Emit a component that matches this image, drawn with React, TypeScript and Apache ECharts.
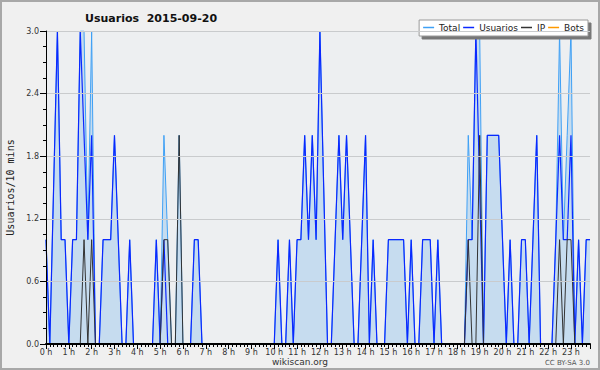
import React, { useEffect, useRef } from "react";
import * as echarts from "echarts";

const TITLE = "Usuarios  2015-09-20";
const Y_NAME = "Usuarios/10 mins";
const SERIES_NAMES = ["Total", "Usuarios", "IP", "Bots"];
const Y_TICKS = [0, 0.6, 1.2, 1.8, 2.4, 3.0];
const HOUR_LABELS = [
  "0 h", "1 h", "2 h", "3 h", "4 h", "5 h", "6 h", "7 h", "8 h", "9 h", "10 h", "11 h",
  "12 h", "13 h", "14 h", "15 h", "16 h", "17 h", "18 h", "19 h", "20 h", "21 h", "22 h", "23 h",
];

// one value per 10-minute slot (144 slots)
const usuarios = [
  1, 0, 1.5, 3, 1, 1, 0, 1, 1, 3, 2, 1,
  2, 0, 0, 1, 1, 1, 2, 1, 0, 0, 1, 0,
  0, 0, 0, 0, 0, 1, 0, 1, 0, 0, 0, 0,
  0, 0, 0, 1, 1, 0, 0, 0, 0, 0, 0, 0,
  0, 0, 0, 0, 0, 0, 0, 0, 0, 0, 0, 0,
  0, 1, 0, 0, 1, 0, 1, 1, 2, 1, 2, 1,
  3, 1.5, 0, 0, 1, 2, 1, 2, 1, 0, 0, 1,
  2, 0, 1, 0, 0, 0, 1, 1, 1, 1, 1, 0,
  1, 0, 0, 1, 1, 1, 0, 1, 0, 0, 0, 0,
  0, 0, 0, 1, 1, 3, 1.5, 0, 2, 2, 2, 2,
  1, 0, 1, 0, 0, 1, 1, 0, 1, 2, 0, 0,
  0, 0, 1, 2, 1, 1, 2, 0, 1, 0, 1, 1,
];

const ip = [
  0, 0, 0, 0, 0, 0, 0, 0, 0, 0, 1, 0,
  1, 0, 0, 0, 0, 0, 0, 0, 0, 0, 0, 0,
  0, 0, 0, 0, 0, 0, 0, 1, 1, 0, 0, 2,
  0, 0, 0, 0, 0, 0, 0, 0, 0, 0, 0, 0,
  0, 0, 0, 0, 0, 0, 0, 0, 0, 0, 0, 0,
  0, 0, 0, 0, 0, 0, 0, 0, 0, 0, 0, 0,
  0, 0, 0, 0, 0, 0, 0, 0, 0, 0, 0, 0,
  0, 0, 0, 0, 0, 0, 0, 0, 0, 0, 0, 0,
  0, 0, 0, 0, 0, 0, 0, 0, 0, 0, 0, 0,
  0, 0, 0, 1, 0, 0, 2, 0, 0, 0, 0, 0,
  0, 0, 0, 0, 0, 0, 0, 0, 0, 0, 0, 0,
  0, 0, 0, 1, 0, 1, 1, 0, 0, 0, 0, 0,
];

const total = [
  1, 0, 1.5, 3, 1, 1, 0, 1, 1, 3, 3, 1,
  3, 0, 0, 1, 1, 1, 2, 1, 0, 0, 1, 0,
  0, 0, 0, 0, 0, 1, 0, 2, 1, 0, 0, 2,
  0, 0, 0, 1, 1, 0, 0, 0, 0, 0, 0, 0,
  0, 0, 0, 0, 0, 0, 0, 0, 0, 0, 0, 0,
  0, 1, 0, 0, 1, 0, 1, 1, 2, 1, 2, 1,
  3, 1.5, 0, 0, 1, 2, 1, 2, 1, 0, 0, 1,
  2, 0, 1, 0, 0, 0, 1, 1, 1, 1, 1, 0,
  1, 0, 0, 1, 1, 1, 0, 1, 0, 0, 0, 0,
  0, 0, 0, 2, 1, 3, 3, 0, 2, 2, 2, 2,
  1, 0, 1, 0, 0, 1, 1, 0, 1, 2, 0, 0,
  0, 0, 1, 3, 1, 2, 3, 0, 1, 0, 1, 1,
];

const bots = [
  0, 0, 0, 0, 0, 0, 0, 0, 0, 0, 0, 0,
  0, 0, 0, 0, 0, 0, 0, 0, 0, 0, 0, 0,
  0, 0, 0, 0, 0, 0, 0, 0, 0, 0, 0, 0,
  0, 0, 0, 0, 0, 0, 0, 0, 0, 0, 0, 0,
  0, 0, 0, 0, 0, 0, 0, 0, 0, 0, 0, 0,
  0, 0, 0, 0, 0, 0, 0, 0, 0, 0, 0, 0,
  0, 0, 0, 0, 0, 0, 0, 0, 0, 0, 0, 0,
  0, 0, 0, 0, 0, 0, 0, 0, 0, 0, 0, 0,
  0, 0, 0, 0, 0, 0, 0, 0, 0, 0, 0, 0,
  0, 0, 0, 0, 0, 0, 0, 0, 0, 0, 0, 0,
  0, 0, 0, 0, 0, 0, 0, 0, 0, 0, 0, 0,
  0, 0, 0, 0, 0, 0, 0, 0, 0, 0, 0, 0,
];

const SLOTS_PER_HOUR = 6;
const FONT = "DejaVu Sans";

export default function App() {
  const ref = useRef<HTMLDivElement>(null);

  useEffect(() => {
    document.body.style.margin = "0";
    const chart = echarts.init(ref.current!, null, { renderer: "svg" });
    const pairs = (arr: number[]) => arr.map((v, i) => [i, v]);
    const lastSlot = usuarios.length - 1;

    chart.setOption({
      animation: false,
      backgroundColor: "#f0f0f0",
      title: {
        text: TITLE,
        left: 80,
        top: 8,
        textStyle: { fontFamily: FONT, fontSize: 11, fontWeight: "bold", color: "#111" },
      },
      legend: {
        data: SERIES_NAMES,
        right: 12,
        top: 20,
        backgroundColor: "#ffffff",
        borderColor: "#9a9a9a",
        borderWidth: 1,
        padding: [3, 4, 4, 4],
        itemGap: 3,
        itemWidth: 11,
        itemHeight: 1.5,
        icon: "rect",
        shadowColor: "#777",
        shadowOffsetX: 3,
        shadowOffsetY: 3,
        shadowBlur: 0,
        textStyle: { fontFamily: FONT, fontSize: 9, color: "#222" },
      },
      grid: {
        left: 46,
        right: 10,
        top: 31,
        bottom: 26,
        show: true,
        backgroundColor: "#edeff1",
        borderWidth: 0,
        outerBoundsMode: "none",
        containLabel: false,
      },
      xAxis: {
        type: "value",
        min: 0,
        max: lastSlot,
        interval: SLOTS_PER_HOUR,
        z: 10,
        axisLine: { show: true, lineStyle: { color: "#000", width: 2 } },
        axisTick: { show: true, length: 5, lineStyle: { color: "#000" } },
        minorTick: { show: true, splitNumber: SLOTS_PER_HOUR, length: 3, lineStyle: { color: "#000" } },
        axisLabel: {
          formatter: (v: number) => HOUR_LABELS[Math.round(v / SLOTS_PER_HOUR)] ?? "",
          fontFamily: FONT,
          fontSize: 8,
          color: "#333",
          margin: 4,
        },
        splitLine: { show: false },
      },
      yAxis: {
        type: "value",
        min: Y_TICKS[0],
        max: Y_TICKS[Y_TICKS.length - 1],
        interval: 0.6,
        z: 10,
        name: Y_NAME,
        nameLocation: "middle",
        nameGap: 31,
        nameRotate: 90,
        nameTextStyle: { fontFamily: "DejaVu Sans Mono", fontSize: 10, color: "#222" },
        axisLine: { show: true, lineStyle: { color: "#000", width: 1 } },
        axisTick: { show: true, length: 6, lineStyle: { color: "#000" } },
        minorTick: { show: true, splitNumber: 4, length: 3, lineStyle: { color: "#000" } },
        axisLabel: {
          formatter: (v: number) => v.toFixed(1),
          fontFamily: FONT,
          fontSize: 8,
          color: "#333",
          margin: 7,
        },
        splitLine: { show: true, lineStyle: { color: "#c9cbcd", width: 1 } },
      },
      series: [
        {
          name: "Total",
          type: "line",
          data: pairs(total),
          showSymbol: false,
          symbol: "none",
          lineStyle: { color: "#3fa0f5", width: 1 },
          itemStyle: { color: "#3fa0f5" },
          areaStyle: { color: "#c6dcef", opacity: 1 },
          z: 2,
        },
        {
          name: "Usuarios",
          type: "line",
          data: pairs(usuarios),
          showSymbol: false,
          symbol: "none",
          lineStyle: { color: "#0a28ff", width: 1.2 },
          itemStyle: { color: "#0a28ff" },
          z: 3,
        },
        {
          name: "IP",
          type: "line",
          data: pairs(ip),
          showSymbol: false,
          symbol: "none",
          lineStyle: { color: "#333333", width: 1 },
          itemStyle: { color: "#333333" },
          z: 4,
        },
        {
          name: "Bots",
          type: "line",
          data: pairs(bots),
          showSymbol: false,
          symbol: "none",
          lineStyle: { color: "#ff9900", width: 1 },
          itemStyle: { color: "#ff9900" },
          z: 1,
        },
      ],
      graphic: [
        {
          type: "rect",
          shape: { x: 1, y: 1, width: 598, height: 368 },
          style: { fill: "none", stroke: "#a8a8a8", lineWidth: 2 },
          silent: true,
        },
        {
          type: "text",
          x: 300,
          y: 362,
          style: {
            text: "wikiscan.org",
            fontFamily: FONT,
            fontSize: 9,
            fill: "#333",
            align: "center",
            verticalAlign: "middle",
          },
        },
        {
          type: "text",
          x: 590,
          y: 363,
          style: {
            text: "CC BY-SA 3.0",
            fontFamily: FONT,
            fontSize: 7,
            fill: "#555",
            align: "right",
            verticalAlign: "middle",
          },
        },
      ],
    });

    return () => chart.dispose();
  }, []);

  return (
    <div
      ref={ref}
      style={{ position: "absolute", left: 0, top: 0, width: 600, height: 370 }}
    />
  );
}
